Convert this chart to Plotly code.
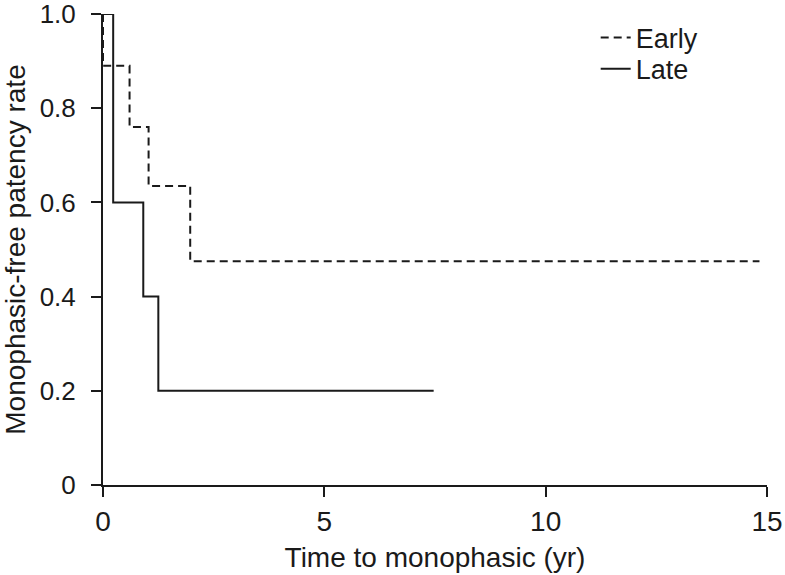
import plotly.graph_objects as go

# Kaplan-Meier step data
early_time = [0, 0, 0.6, 1.03, 1.97, 14.83]
early_surv = [1.0, 0.89, 0.76, 0.635, 0.475, 0.475]

late_time = [0, 0.23, 0.91, 1.25, 7.47]
late_surv = [1.0, 0.6, 0.4, 0.2, 0.2]

x_ticks = [0, 5, 10, 15]
y_ticks = [0, 0.2, 0.4, 0.6, 0.8, 1.0]
y_tick_labels = ["0", "0.2", "0.4", "0.6", "0.8", "1.0"]

fig = go.Figure()
fig.add_trace(go.Scatter(
    x=early_time, y=early_surv, mode="lines", name="Early", legend="legend",
    line=dict(color="#1a1a1a", width=2, dash="8px,5px", shape="hv"),
    cliponaxis=False,
))
fig.add_trace(go.Scatter(
    x=late_time, y=late_surv, mode="lines", name="Late", legend="legend2",
    line=dict(color="#1a1a1a", width=2, shape="hv"),
    cliponaxis=False,
))

font = dict(family="Liberation Sans, Arial, sans-serif", color="#1a1a1a")
legend_style = dict(xanchor="left", yanchor="middle", bgcolor="rgba(0,0,0,0)",
                    font=dict(size=27, **font))

fig.update_layout(
    width=785, height=575,
    margin=dict(l=103, r=18, t=14, b=90, autoexpand=False),
    paper_bgcolor="white", plot_bgcolor="white",
    font=dict(size=27, **font),
    showlegend=True,
    legend=dict(x=0.742, y=0.949, **legend_style),
    legend2=dict(x=0.742, y=0.883, **legend_style),
)
fig.update_xaxes(
    range=[0, 15], tickvals=x_ticks, ticks="outside", ticklen=10, tickwidth=2,
    tickcolor="#1a1a1a", showline=True, linecolor="#1a1a1a", linewidth=2,
    showgrid=False, zeroline=False, tickfont=dict(size=28, **font),
    automargin=False, ticklabeloverflow="allow",
    title=dict(text="Time to monophasic (yr)", font=dict(size=28, **font), standoff=12),
)
fig.update_yaxes(
    range=[0, 1.0], tickvals=y_ticks, ticktext=y_tick_labels, ticks="outside",
    ticklen=10, tickwidth=2, tickcolor="#1a1a1a", showline=True,
    linecolor="#1a1a1a", linewidth=2, showgrid=False, zeroline=False,
    tickfont=dict(size=26, **font), automargin=False, ticklabeloverflow="allow",
    ticklabelstandoff=10,
    title=dict(text="Monophasic-free patency rate", font=dict(size=28, **font), standoff=6),
)

fig.write_html(
    "out.html",
    config={"displayModeBar": False},
    post_script="document.body.style.margin='0';document.body.style.overflow='hidden';",
)
